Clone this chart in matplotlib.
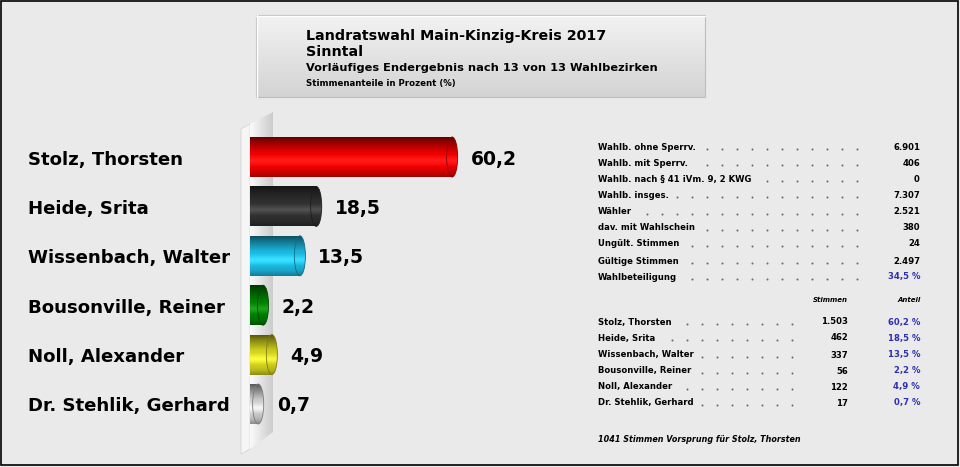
import numpy as np
import matplotlib
matplotlib.use('Agg')
import matplotlib.pyplot as plt
import matplotlib.transforms as mtransforms
from matplotlib.patches import Rectangle, Ellipse, Polygon
from matplotlib.colors import to_rgb

# data
names = ['Stolz, Thorsten', 'Heide, Srita', 'Wissenbach, Walter',
         'Bousonville, Reiner', 'Noll, Alexander', 'Dr. Stehlik, Gerhard']
shares = [60.2, 18.5, 13.5, 2.2, 4.9, 0.7]
votes = [1503, 462, 337, 56, 122, 17]
colors = ['#FF0000', '#343434', '#1EC8F2', '#008A00', '#E4E422', '#E2E2E2']

stat_labels = ['Wahlb. ohne Sperrv.', 'Wahlb. mit Sperrv.', 'Wahlb. nach § 41 iVm. 9, 2 KWG',
               'Wahlb. insges.', 'Wähler', 'dav. mit Wahlschein', 'Ungült. Stimmen',
               'Gültige Stimmen', 'Wahlbeteiligung']
stat_values = ['6.901', '406', '0', '7.307', '2.521', '380', '24', '2.497']
turnout = 34.5

title_lines = ['Landratswahl Main-Kinzig-Kreis 2017', 'Sinntal',
               'Vorläufiges Endergebnis nach 13 von 13 Wahlbezirken',
               'Stimmenanteile in Prozent (%)']

BLUE = '#2E2EB4'
BG = '#EAEAEA'


def de(v):
    return ('%.1f' % v).replace('.', ',')


def thousands(v):
    return '{:,}'.format(v).replace(',', '.')


def shade(color, k=1.0, n=80):
    base = np.array(to_rgb(color))
    t = np.linspace(0, 1, n)
    prof = np.interp(t, [0, .12, .4, .65, .88, 1], [.35, .55, .92, 1.0, .82, .62]) * k
    hl = np.interp(t, [0, .45, .6, .75, 1], [0, 0, .12, 0, 0])
    rgb = np.clip(base[None, :] * prof[:, None] + hl[:, None], 0, 1)
    return rgb[:, None, :]


fig = plt.figure(figsize=(9.6, 4.67), dpi=100, facecolor=BG)

# background axes in pixel coords
bg = fig.add_axes([0, 0, 1, 1], zorder=0)
bg.set_xlim(0, 960)
bg.set_ylim(467, 0)
bg.axis('off')
bg.add_patch(Rectangle((0.8, 0.8), 957.5, 464.5, fill=False, ec='black', lw=1.2))

# title box
tb = Rectangle((256, 15), 449, 82, fc='none', ec='#BDBDBD', lw=0.8, zorder=2)
bg.add_patch(tb)
grad = np.linspace(0.95, 0.83, 50)[:, None, None] * np.ones((1, 1, 3))
im = bg.imshow(grad, extent=(256, 705, 97, 15), aspect='auto', zorder=1)
im.set_clip_path(tb)
bg.plot([256, 705], [15.5, 15.5], color='white', lw=1, zorder=3)
bg.plot([256.5, 256.5], [15, 97], color='white', lw=1, zorder=3)
ty = [40, 56, 71, 86]
tsz = [10.3, 10.3, 8.2, 6.2]
for s, y, fs in zip(title_lines, ty, tsz):
    bg.text(306, y, s, fontsize=fs, fontweight='bold', va='baseline', ha='left', zorder=4)

# wall behind the bars
front = Polygon([(241, 129), (250, 124), (250, 449), (241, 454)], closed=True,
                fc='#F6F6F6', ec='#D0D0D0', lw=0.5, zorder=1)
bg.add_patch(front)
side = Polygon([(250, 124), (273, 112), (273, 432), (250, 449)], closed=True,
               fc='none', ec='none', zorder=1)
bg.add_patch(side)
hg = np.linspace(0.98, 0.80, 40)[None, :, None] * np.ones((1, 1, 3))
wim = bg.imshow(hg, extent=(250, 273, 449, 112), aspect='auto', zorder=1)
wim.set_clip_path(side)
bg.set_xlim(0, 960)
bg.set_ylim(467, 0)

# bar axes: value 0 at x=250px, 3.26 px per percent, row centres 49.4 px apart
px0, ppu = 250, 3.26
ax_l, ax_r, ax_t, ax_b = 242, 600, 110, 460
ax = fig.add_axes([ax_l / 960, 1 - ax_b / 467, (ax_r - ax_l) / 960, (ax_b - ax_t) / 467], zorder=2)
ax.patch.set_alpha(0)
ax.axis('off')
xlim = ((ax_l - px0) / ppu, (ax_r - px0) / ppu)
ylim = ((ax_b - 157) / 49.4, (ax_t - 157) / 49.4)

h = 0.81
off = 1.8
capw = 3.4
for i, (v, c) in enumerate(zip(shares, colors)):
    end = v + off
    body = Rectangle((0, i - h / 2), end, h, transform=ax.transData)
    bim = ax.imshow(shade(c), extent=(0, end, i + h / 2, i - h / 2), aspect='auto', zorder=3)
    bim.set_clip_path(body)
    cap = Ellipse((end, i), capw, h, fc='none', ec=np.array(to_rgb(c)) * 0.55, lw=0.6, zorder=5)
    ax.add_patch(cap)
    cim = ax.imshow(shade(c, 0.97), extent=(end - capw / 2, end + capw / 2, i + h / 2, i - h / 2),
                    aspect='auto', zorder=4)
    cim.set_clip_path(cap)
ax.set_xlim(*xlim)
ax.set_ylim(*ylim)

base_tr = mtransforms.offset_copy(ax.transData, fig=fig, y=-7.5, units='dots')
name_tr = mtransforms.blended_transform_factory(fig.transFigure, base_tr)
for i, (n, v) in enumerate(zip(names, shares)):
    ax.text(28 / 960, i, n, transform=name_tr, fontsize=13.1, fontweight='bold',
            va='baseline', ha='left', clip_on=False)
    ax.text(v + off + capw / 2 + 13 / ppu, i, de(v), transform=base_tr, fontsize=13.5,
            fontweight='bold', va='baseline', ha='left', clip_on=False)

# right-hand tables
fs_t = 6.1
stat_y = [147, 163, 179, 195, 212, 228, 244, 261, 277]
texts = []
for k, (lab, y) in enumerate(zip(stat_labels, stat_y)):
    t = bg.text(598, y, lab, fontsize=fs_t, fontweight='bold', va='center', ha='left')
    texts.append((t, 857))
    if k < len(stat_values):
        bg.text(920, y, stat_values[k], fontsize=fs_t, fontweight='bold', va='center', ha='right')
    else:
        bg.text(920, y, de(turnout) + ' %', fontsize=fs_t, fontweight='bold', va='center',
                ha='right', color=BLUE)

bg.text(848, 300, 'Stimmen', fontsize=5.0, fontweight='bold', style='italic', va='center', ha='right')
bg.text(921, 300, 'Anteil', fontsize=5.0, fontweight='bold', style='italic', va='center', ha='right')
cand_y = [322, 338, 355, 371, 387, 403]
for n, vt, s, y in zip(names, votes, shares, cand_y):
    t = bg.text(598, y, n, fontsize=fs_t, fontweight='bold', va='center', ha='left')
    texts.append((t, 792))
    bg.text(848, y, thousands(vt), fontsize=fs_t, fontweight='bold', va='center', ha='right')
    bg.text(920, y, de(s) + ' %', fontsize=fs_t, fontweight='bold', va='center', ha='right', color=BLUE)

lead = votes[0] - votes[1]
bg.text(598, 439, '%d Stimmen Vorsprung für %s' % (lead, names[0]), fontsize=fs_t - 0.3,
        fontweight='bold', style='italic', va='center', ha='left')

# dotted leaders after each label
fig.canvas.draw()
r = fig.canvas.get_renderer()
for t, last in texts:
    x1 = t.get_window_extent(r).x1
    y = t.get_position()[1]
    xs = [last - 15 * k for k in range(20) if last - 15 * k > x1 + 5]
    bg.plot(xs, [y + 1.8] * len(xs), ls='none', marker='o', ms=1.5, color='#707070', mew=0)

fig.savefig('out.png', dpi=100, facecolor=BG)
